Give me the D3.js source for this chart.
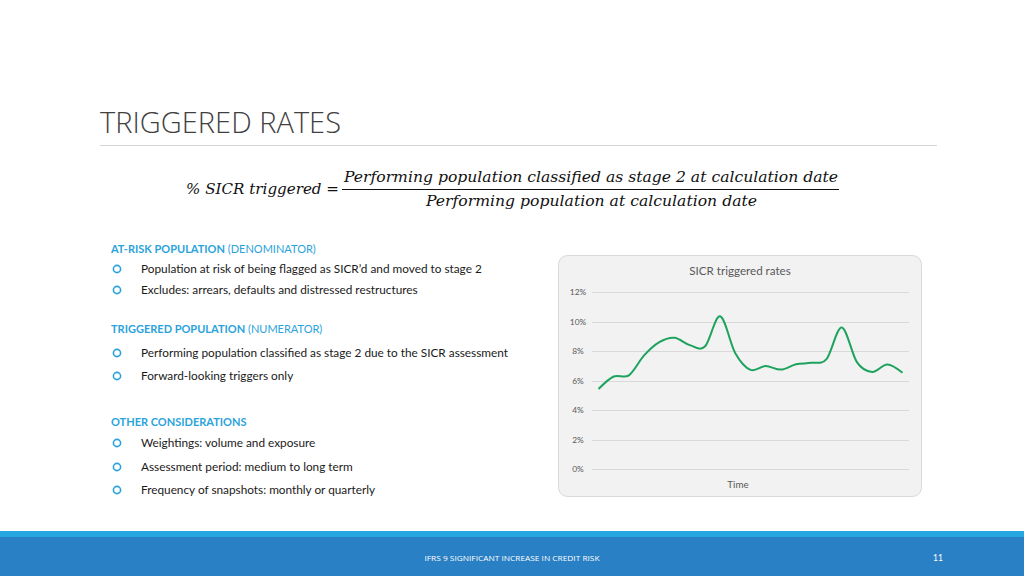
<!DOCTYPE html>
<html>
<head>
<meta charset="utf-8">
<script src="https://cdn.jsdelivr.net/npm/d3@7"></script>
<style>
  html, body { margin: 0; padding: 0; background: #ffffff; }
  svg { display: block; }
</style>
</head>
<body>
<svg id="slide" width="1024" height="576"></svg>
<script>
// ---- Data ----
const periods = d3.range(1, 22); // 21 time snapshots
const sicrRates = [5.42, 6.27, 6.35, 7.7, 8.6, 8.9, 8.4, 8.3, 10.35, 7.85, 6.72,
                   6.98, 6.74, 7.1, 7.2, 7.45, 9.6, 7.25, 6.58, 7.08, 6.52];
const yTicks = [0, 2, 4, 6, 8, 10, 12];
const chartTitle = "SICR triggered rates";
const xAxisTitle = "Time";

const sections = [
  { head: "AT-RISK POPULATION", sub: " (DENOMINATOR)",
    items: ["Population at risk of being flagged as SICR\u2019d and moved to stage 2",
            "Excludes: arrears, defaults and distressed restructures"] },
  { head: "TRIGGERED POPULATION", sub: " (NUMERATOR)",
    items: ["Performing population classified as stage 2 due to the SICR assessment",
            "Forward-looking triggers only"] },
  { head: "OTHER CONSIDERATIONS", sub: "",
    items: ["Weightings: volume and exposure",
            "Assessment period: medium to long term",
            "Frequency of snapshots: monthly or quarterly"] }
];

// ---- Slide ----
const svg = d3.select("#slide");
const blue = "#2aa3dc";

// Title
svg.append("text").attr("x", 100).attr("y", 133)
  .attr("font-family", "'Open Sans', sans-serif").attr("font-weight", 300)
  .attr("font-size", 29).attr("fill", "#404040")
  .attr("textLength", 241).attr("lengthAdjust", "spacingAndGlyphs")
  .text("TRIGGERED RATES");
svg.append("line").attr("x1", 100).attr("x2", 937).attr("y1", 145.5).attr("y2", 145.5)
  .attr("stroke", "#d4d4d4").attr("stroke-width", 1);

// Formula
const fFont = "'DejaVu Serif', 'Liberation Serif', serif";
svg.append("text").attr("x", 186).attr("y", 194)
  .attr("font-family", fFont).attr("font-style", "italic").attr("font-size", 14.5)
  .attr("fill", "#111").attr("textLength", 153).attr("lengthAdjust", "spacingAndGlyphs")
  .text("% SICR triggered =");
svg.append("text").attr("x", 344).attr("y", 182)
  .attr("font-family", fFont).attr("font-style", "italic").attr("font-size", 14.5)
  .attr("fill", "#111").attr("textLength", 494).attr("lengthAdjust", "spacingAndGlyphs")
  .text("Performing population classified as stage 2 at calculation date");
svg.append("line").attr("x1", 342).attr("x2", 839).attr("y1", 189.5).attr("y2", 189.5)
  .attr("stroke", "#111").attr("stroke-width", 1.2);
svg.append("text").attr("x", 426).attr("y", 206)
  .attr("font-family", fFont).attr("font-style", "italic").attr("font-size", 14.5)
  .attr("fill", "#111").attr("textLength", 331).attr("lengthAdjust", "spacingAndGlyphs")
  .text("Performing population at calculation date");

// Bulleted sections
const headY = [253, 333, 426];
const itemY = [[273, 294], [357, 380], [447, 471, 494]];
const tFont = "Lato, 'Open Sans', sans-serif";
sections.forEach((s, i) => {
  const t = svg.append("text").attr("x", 111).attr("y", headY[i])
    .attr("font-family", tFont).attr("font-size", 11).attr("fill", blue);
  t.append("tspan").attr("font-weight", 700).text(s.head);
  if (s.sub) t.append("tspan").text(s.sub);
  s.items.forEach((it, j) => {
    const y = itemY[i][j];
    svg.append("circle").attr("cx", 117).attr("cy", y - 4).attr("r", 3.6)
      .attr("fill", "none").attr("stroke", blue).attr("stroke-width", 1.6);
    svg.append("text").attr("x", 141).attr("y", y)
      .attr("font-family", tFont).attr("font-size", 11.8).attr("fill", "#1a1a1a")
      .text(it);
  });
});

// ---- Chart ----
const box = { x: 558.5, y: 255.5, w: 363, h: 241 };
svg.append("rect").attr("x", box.x).attr("y", box.y).attr("width", box.w).attr("height", box.h)
  .attr("rx", 9).attr("fill", "#f2f2f2").attr("stroke", "#d9d9d9").attr("stroke-width", 1);

svg.append("text").attr("x", 740).attr("y", 275).attr("text-anchor", "middle")
  .attr("font-family", tFont).attr("font-size", 11.6).attr("fill", "#595959")
  .text(chartTitle);

const plot = { left: 592, right: 909, top: 292, bottom: 469 };
const x = d3.scalePoint().domain(periods).range([598.5, 902.5]);
const y = d3.scaleLinear().domain([0, 12]).range([plot.bottom, plot.top]);

const g = svg.append("g");
g.selectAll("line.grid").data(yTicks).enter().append("line")
  .attr("class", "grid")
  .attr("x1", plot.left).attr("x2", plot.right)
  .attr("y1", d => Math.round(y(d)) + 0.5).attr("y2", d => Math.round(y(d)) + 0.5)
  .attr("stroke", "#d9d9d9").attr("stroke-width", 1);

g.selectAll("text.tick").data(yTicks).enter().append("text")
  .attr("class", "tick")
  .attr("x", 578).attr("y", d => y(d) + 3).attr("text-anchor", "middle")
  .attr("font-family", tFont).attr("font-size", 8.4).attr("fill", "#595959")
  .text(d => d + "%");

const line = d3.line()
  .x((d, i) => x(periods[i]))
  .y(d => y(d))
  .curve(d3.curveCatmullRom.alpha(0));
g.append("path").datum(sicrRates)
  .attr("d", line).attr("fill", "none")
  .attr("stroke", "#1ea35e").attr("stroke-width", 2).attr("stroke-linejoin", "round");

svg.append("text").attr("x", 738).attr("y", 488).attr("text-anchor", "middle")
  .attr("font-family", tFont).attr("font-size", 9.8).attr("fill", "#595959")
  .text(xAxisTitle);

// ---- Footer ----
svg.append("rect").attr("x", 0).attr("y", 531).attr("width", 1024).attr("height", 45)
  .attr("fill", "#2a80c4");
svg.append("rect").attr("x", 0).attr("y", 531).attr("width", 1024).attr("height", 6)
  .attr("fill", "#25a7df");
svg.append("text").attr("x", 512).attr("y", 561).attr("text-anchor", "middle")
  .attr("font-family", "'Liberation Sans Narrow', 'Open Sans', sans-serif").attr("font-size", 8)
  .attr("fill", "#ffffff").attr("textLength", 175).attr("lengthAdjust", "spacingAndGlyphs")
  .text("IFRS 9 SIGNIFICANT INCREASE IN CREDIT RISK");
svg.append("text").attr("x", 938).attr("y", 561).attr("text-anchor", "middle")
  .attr("font-family", tFont).attr("font-size", 8.5).attr("fill", "#ffffff")
  .text("11");
</script>
</body>
</html>
